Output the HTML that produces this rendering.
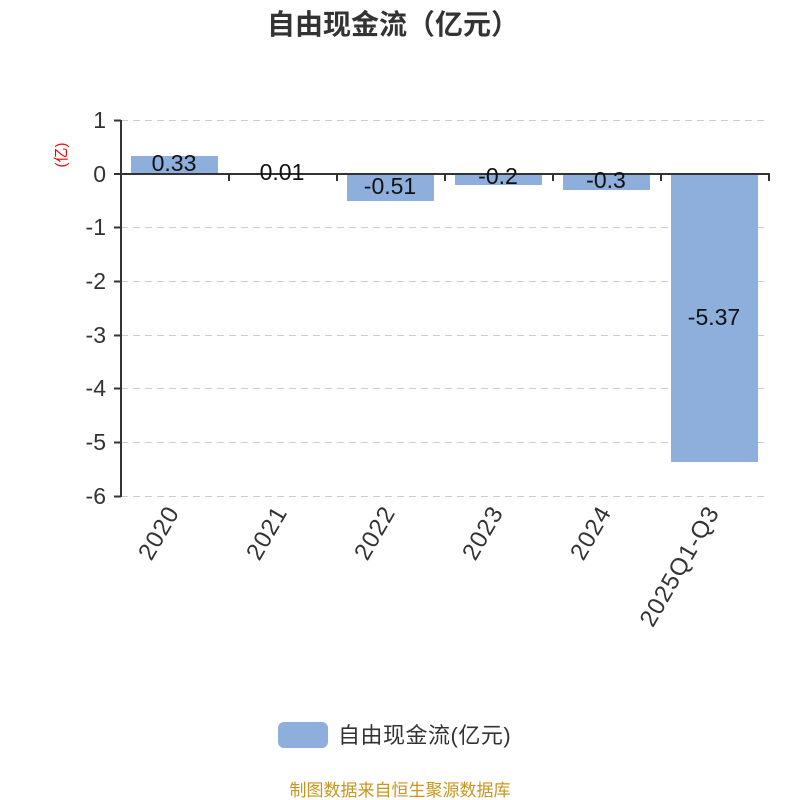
<!DOCTYPE html>
<html><head><meta charset="utf-8"><style>body{margin:0;background:#fff}svg{display:block}text{font-family:"Liberation Sans","Noto Sans CJK SC",sans-serif}</style></head><body>
<svg width="800" height="800" xmlns="http://www.w3.org/2000/svg">
<text x="393" y="34" text-anchor="middle" font-size="28" font-weight="bold" fill="#333">自由现金流（亿元）</text>
<g stroke="#ccc" stroke-dasharray="7,5" stroke-width="1">
<line x1="121" y1="120.5" x2="769" y2="120.5"/><line x1="121" y1="227.5" x2="769" y2="227.5"/><line x1="121" y1="281.5" x2="769" y2="281.5"/><line x1="121" y1="335.5" x2="769" y2="335.5"/><line x1="121" y1="388.5" x2="769" y2="388.5"/><line x1="121" y1="442.5" x2="769" y2="442.5"/><line x1="121" y1="496.5" x2="769" y2="496.5"/>
</g>
<g fill="#8eaedb">
<rect x="131" y="156" width="87" height="18"/>
<rect x="239" y="173" width="87" height="1"/>
<rect x="347" y="174" width="87" height="27"/>
<rect x="455" y="174" width="87" height="11"/>
<rect x="563" y="174" width="87" height="16"/>
<rect x="671" y="174" width="87" height="288"/>
</g>
<g stroke="#333" stroke-width="2" fill="none">
<line x1="121" y1="120" x2="121" y2="497"/>
<line x1="121" y1="174" x2="770" y2="174"/>
<path d="M114 120.5H121M114 174H121M114 227.5H121M114 281.5H121M114 335.5H121M114 388.5H121M114 442.5H121M114 496.5H121"/>
<path d="M229 174V181M337 174V181M445 174V181M553 174V181M661 174V181M769 174V181"/>
</g>
<g font-size="23" fill="#333" text-anchor="end">
<text x="106" y="128">1</text><text x="106" y="182">0</text><text x="106" y="235">-1</text><text x="106" y="289">-2</text><text x="106" y="343">-3</text><text x="106" y="396">-4</text><text x="106" y="450">-5</text><text x="106" y="504">-6</text>
</g>
<text transform="translate(66,155) rotate(-90)" text-anchor="middle" font-size="15" fill="#e00">(亿)</text>
<g font-size="23" fill="#111" text-anchor="middle">
<text x="174" y="171">0.33</text><text x="282" y="180">0.01</text><text x="390" y="194">-0.51</text><text x="498" y="184">-0.2</text><text x="606" y="188">-0.3</text><text x="714" y="325">-5.37</text>
</g>
<g font-size="24" fill="#333" text-anchor="end" letter-spacing="1">
<text transform="translate(180,512) rotate(-60)">2020</text>
<text transform="translate(288,512) rotate(-60)">2021</text>
<text transform="translate(396,512) rotate(-60)">2022</text>
<text transform="translate(504,512) rotate(-60)">2023</text>
<text transform="translate(612,512) rotate(-60)">2024</text>
<text transform="translate(720,512) rotate(-60)">2025Q1-Q3</text>
</g>
<rect x="278" y="722" width="50" height="26" rx="6" fill="#8eaedb"/>
<text x="338" y="743" font-size="22" fill="#333" letter-spacing="0.5">自由现金流(亿元)</text>
<text x="400" y="796" text-anchor="middle" font-size="17" fill="#c8961e">制图数据来自恒生聚源数据库</text>
</svg>
</body></html>
